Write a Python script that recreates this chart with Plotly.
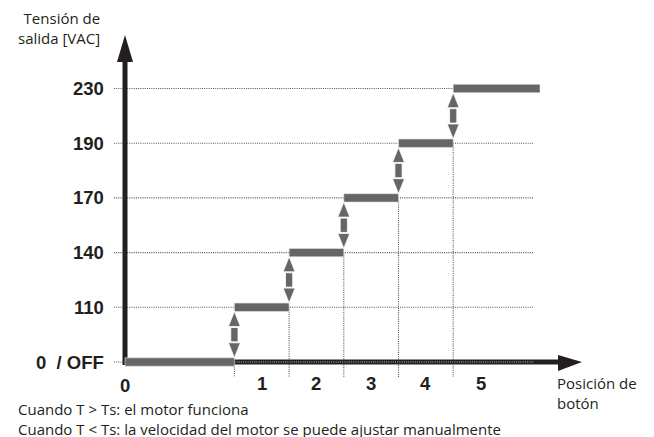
import plotly.graph_objects as go

# ---- data ----
level_values = [0, 110, 140, 170, 190, 230]
level_labels = ["0\u00a0 /\u00a0OFF", "110", "140", "170", "190", "230"]
positions = ["0", "1", "2", "3", "4", "5"]
y_title = "Tensión de<br>salida [VAC]"
x_title = "Posición de<br>botón"
notes = ["Cuando T > Ts: el motor funciona",
         "Cuando T < Ts: la velocidad del motor se puede ajustar manualmente"]

# ---- layout helpers (pixel scale, in window coordinates) ----
WIN_W, WIN_H = 654, 437
PAD = 8             # default page margin around the figure
W, H = WIN_W - PAD, WIN_H - PAD
U = 54.7            # px per unit
OX, OY = 125, 362   # origin in window px
def px_x(p): return (p - OX) / U
def px_y(p): return (OY - p) / U

DARK = "#231f20"
GRAY = "#666666"
GRID = "#555555"

def boundary(k):
    return 0 if k == 0 else k + 1

n = len(level_values)
bar_end = px_x(540)
h = 4.2 / U

shapes = []
# gridlines
for i in range(n):
    shapes.append(dict(type="line", xref="x", yref="y", x0=px_x(114), x1=px_x(534), y0=i, y1=i,
                       line=dict(color=GRID, width=1.1, dash="1px,1.2px"), layer="below"))
# vertical dotted lines
for k in range(1, n):
    shapes.append(dict(type="line", xref="x", yref="y", x0=boundary(k), x1=boundary(k),
                       y0=k - 1, y1=px_y(377),
                       line=dict(color=GRID, width=1.1, dash="1px,1.2px"), layer="below"))
# x axis
shapes.append(dict(type="line", xref="x", yref="y", x0=0, x1=px_x(560), y0=0, y1=0,
                   line=dict(color=DARK, width=5)))
shapes.append(dict(type="path", xref="x", yref="y",
                   path=f"M {px_x(558)},{px_y(355)} L {px_x(582)},0 L {px_x(558)},{px_y(371)} Z",
                   fillcolor=DARK, line=dict(width=0)))
# dotted overlay on x axis
shapes.append(dict(type="line", xref="x", yref="y", x0=boundary(1), x1=px_x(534), y0=0, y1=0,
                   line=dict(color="#8a8a8a", width=1.5, dash="1px,1.2px")))
# y axis
shapes.append(dict(type="line", xref="x", yref="y", x0=0, x1=0, y0=px_y(365), y1=px_y(60),
                   line=dict(color=DARK, width=5)))
shapes.append(dict(type="path", xref="x", yref="y",
                   path=f"M {px_x(117)},{px_y(62)} L 0,{px_y(35)} L {px_x(133)},{px_y(62)} Z",
                   fillcolor=DARK, line=dict(width=0)))
# step bars
for i in range(n):
    x0 = boundary(i)
    x1 = boundary(i + 1) if i + 1 < n else bar_end
    shapes.append(dict(type="rect", xref="x", yref="y", x0=x0, x1=x1, y0=i - h, y1=i + h,
                       fillcolor=GRAY, line=dict(color="#e6e6e6", width=0.6)))
# double arrows
head = 15 / U
hw = 6 / U
sw = 3.6 / U
for k in range(1, n):
    xc = boundary(k)
    lo = k - 1 + h
    hi = k - h
    shapes.append(dict(type="path", xref="x", yref="y",
                       path=f"M {xc-hw},{hi-head} L {xc},{hi} L {xc+hw},{hi-head} Z",
                       fillcolor=GRAY, line=dict(color="white", width=0.8)))
    shapes.append(dict(type="path", xref="x", yref="y",
                       path=f"M {xc-hw},{lo+head} L {xc},{lo} L {xc+hw},{lo+head} Z",
                       fillcolor=GRAY, line=dict(color="white", width=0.8)))
    shapes.append(dict(type="rect", xref="x", yref="y", x0=xc - sw, x1=xc + sw,
                       y0=lo + head + 1 / U, y1=hi - head - 1 / U,
                       fillcolor=GRAY, line=dict(color="white", width=0.8)))

ann = []
BOLD = dict(family="Liberation Sans", size=18.5, color=DARK, weight="bold")
TXT = dict(family="Open Sans", size=15, color=DARK)
for i, lab in enumerate(level_labels):
    ann.append(dict(x=px_x(105), y=i, xref="x", yref="y", text=lab, showarrow=False,
                    xanchor="right", yanchor="middle", font=BOLD, borderpad=0))
for k, lab in enumerate(positions):
    if k == 0:
        xx, yy = 0, px_y(385)
    else:
        xx, yy = (boundary(k) + boundary(k + 1)) / 2 if k + 1 < n else boundary(k) + 0.5, px_y(383)
    ann.append(dict(x=xx, y=yy, xref="x", yref="y", text=lab, showarrow=False,
                    xanchor="center", yanchor="middle", font=BOLD, borderpad=0))
ann.append(dict(x=px_x(101), y=px_y(28), xref="x", yref="y", text=y_title, showarrow=False,
                xanchor="right", yanchor="middle", align="right", font=TXT, borderpad=0))
ann.append(dict(x=px_x(556), y=px_y(393), xref="x", yref="y", text=x_title, showarrow=False,
                xanchor="left", yanchor="middle", align="left", font=TXT, borderpad=0))
ann.append(dict(x=px_x(17), y=px_y(418.5), xref="x", yref="y", text="<br>".join(notes),
                showarrow=False, xanchor="left", yanchor="middle", align="left", font=TXT,
                borderpad=0))

fig = go.Figure()
fig.add_trace(go.Scatter(x=[0], y=[0], mode="markers", marker=dict(opacity=0), hoverinfo="skip",
                         showlegend=False))
fig.update_layout(
    width=W, height=H, margin=dict(l=0, r=0, t=0, b=0, pad=0),
    paper_bgcolor="white", plot_bgcolor="white",
    xaxis=dict(range=[px_x(PAD), px_x(WIN_W)], visible=False, fixedrange=True),
    yaxis=dict(range=[px_y(WIN_H), px_y(PAD)], visible=False, fixedrange=True),
    shapes=shapes, annotations=ann, showlegend=False,
)
fig.write_html("out.html", config=dict(displayModeBar=False))
